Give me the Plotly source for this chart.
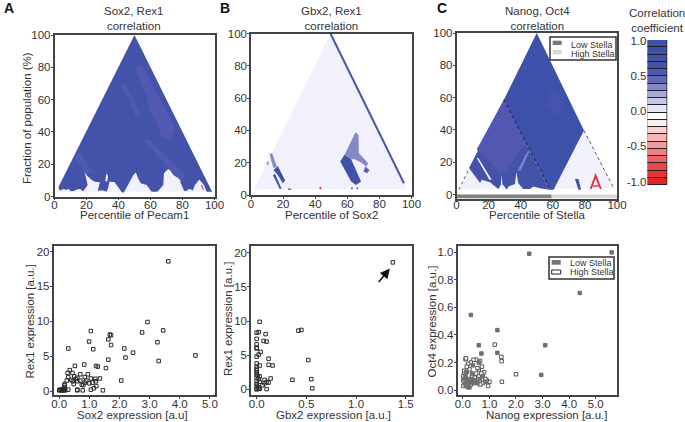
import plotly.graph_objects as go

W, H = 685, 422
FONT = "Liberation Sans"
TXT = "#333333"
BLUE = "#4453aa"
DEEP = "#3d50aa"
LITE = "#5259b2"
PALE = "#f0f1fa"
RED = "#e8303a"

# ---------- Panel A heat map regions (percentile, fraction of population) ----------
a_triangle = [(50, 100), (98.5, 3), (1.5, 3)]
a_blue = [(50, 100), (98.5, 3), (95.1, 3), (93.4, 7.1), (90.5, 10.6), (88.9, 8.2), (87.8, 7.1), (86.4, 3.6),
          (85, 4.6), (83.6, 4.4), (82.2, 3.2), (81, 3.6), (78.9, 8.2), (78.4, 11.3), (76.2, 12), (74.3, 13.3),
          (72.5, 16), (71.1, 17), (69.8, 15.6), (68.4, 14.4), (68, 7.1), (66, 5), (64.3, 3), (60.7, 3), (59, 5.5),
          (57.6, 7.1), (53.9, 8.2), (52.2, 11.3), (50.9, 14.8), (49.3, 13.3), (43.4, 2.4), (42.2, 2.4), (37.5, 9),
          (34.3, 9.2), (33.6, 5.5), (32.6, 3), (30, 3.8), (27, 3.6), (28.4, 8.8), (25.3, 9.2), (23.5, 10), (21.8, 11.3),
          (20.2, 13), (18.9, 15.4), (20.7, 7.1), (18, 3.2), (16, 4.6), (13.9, 4.4), (12, 3.4), (10.1, 3.2), (8.8, 4.8),
          (7.6, 4), (5.5, 4.6), (3.4, 3.6), (2.4, 5.7)]
a_spot = [(31.8, 9.4), (32.4, 14.4), (33.4, 12.7), (33, 9.4)]
a_light1 = [(50.3, 79.4), (54.5, 81.4), (65.9, 60.8), (75.3, 42.2), (72.2, 34.9), (67, 37), (63.8, 46.3),
            (59.7, 52.5), (57.6, 61.8), (54.5, 68)]
a_light2 = [(40.9, 69), (44, 70), (50.3, 58.7), (54.5, 48.4), (50.3, 50.5), (46.1, 61.8)]
a_light3 = [(12.8, 24.6), (15.9, 27.7), (24.3, 14.3), (19.1, 15.3)]
a_light4 = [(55.5, 35), (59.7, 35), (82.6, 12.3), (78.4, 10.2)]
a_red = [(91.6, 7.1), (92.3, 7.1), (93.4, 4.1), (92.8, 4.1)]

# ---------- Panel B regions ----------
b_triangle = [(49.5, 100), (97.5, 3.5), (2, 3.5)]
b_stripe = [(49.5, 100), (95.3, 7.3)]
b_light1 = [(65.1, 38.9), (67, 37.3), (67.2, 25.9), (70.7, 21.8), (73, 19.7), (71.8, 17.6), (68.6, 20.1),
            (64.5, 22.2), (62.4, 22.2), (58.3, 24.9)]
b_dark1 = [(55.6, 20.7), (58.3, 24.9), (62.4, 22.2), (64.5, 17.6), (68.6, 8.3), (65.5, 6.2), (62.4, 8.3)]
b_light2 = [(71.2, 17.6), (73.8, 15.5), (72.4, 13.5), (70, 14.5)]
b_light3 = [(11.5, 25.5), (13.2, 25.9), (16.1, 17.6), (14, 16.6)]
b_light4 = [(9.9, 20.7), (10.9, 20.7), (10.9, 18.7), (9.9, 18.7)]
b_dark2 = [(14, 15.5), (16.7, 18), (21.3, 9), (19.8, 7.3), (16.7, 12.4)]
b_dark3 = [(13.6, 12.4), (15, 13), (19, 4), (18, 3.5)]
b_dot1 = [(23, 4), (25, 4), (25, 3.2), (23, 3.2)]
b_dot2 = [(62.4, 4.6), (63.4, 4.6), (63.4, 3.6), (62.4, 3.6)]
b_dot3 = [(65.8, 4.6), (66.8, 4.6), (66.8, 3.6), (65.8, 3.6)]
b_red = [(42.7, 4.9), (43.8, 4.9), (43.8, 3.5), (42.7, 3.5)]

# ---------- Panel C regions ----------
c_triangle = [(50, 100), (98, 4), (1.5, 3)]
c_right = [(50, 100), (79.4, 39.6), (60.5, 3), (57.8, 3), (29.6, 58.8)]
c_left = [(29.6, 58.8), (57.8, 3), (52, 4), (47.9, 5.1), (45.8, 3.5), (41.6, 3.5), (38.5, 7), (37.2, 14), (36.5, 6.5),
          (32.3, 5), (31.3, 3), (29.2, 6), (28.6, 6), (28.1, 12.3), (27.6, 6), (26.1, 3.5), (23.5, 5.5), (20.9, 7.6),
          (15.7, 9.2), (14.7, 7.2), (7.8, 16.5)]
c_diamond = [(12.6, 27.9), (29.6, 58.8), (43.7, 32), (28.2, 12.3)]
c_patch = [(55.1, 54.7), (59.3, 66), (68.6, 58.8), (66.5, 54.7), (62.4, 48.5)]
c_gap = [(12.6, 22.7), (13.6, 22.7), (21.9, 9.2), (20.5, 9.2)]
c_stripe = [(43.7, 25.8), (46, 28), (40, 15), (38, 15)]
c_blob = [(73.8, 9.6), (76, 9.6), (77.6, 3), (76, 3)]
c_red = [(86.7, 13.5), (90.5, 3.5), (89.3, 3.5), (86.7, 10), (84.2, 3.5), (83, 3.5)]
c_red2 = [(85, 5.8), (88.5, 5.8), (88.5, 4.8), (85, 4.8)]
c_dash_mid = [(29.6, 58.8), (58.5, 3)]
c_dash_left = [(1.5, 3), (8, 16.5)]
c_dash_right = [(79.4, 39.6), (98, 4)]
c_bar_low = [(0, 0), (59.3, 0), (59.3, -2.4), (0, -2.4)]
c_bar_high = [(59.3, 0), (100, 0), (100, -2.4), (59.3, -2.4)]

# ---------- Colour key ----------
key_bases = [0.907, 0.804, 0.701, 0.598, 0.495, 0.392, 0.289, 0.186, 0.083, -0.02,
             -0.123, -0.226, -0.329, -0.432, -0.535, -0.638, -0.741, -0.844, -0.947, -1.05]
key_colors = ["#3a52a8", "#3d50a8", "#3f51a8", "#4554ab", "#5059b0", "#6168b5", "#8589c5", "#a7a9d6", "#c5c7e4",
              "#e6e7f4", "#fdfdfd", "#fdeeee", "#fbd3d3", "#f8b6b6", "#f59a9a", "#f27f7f", "#ee6464", "#eb4848",
              "#e93232", "#e72227"]
key_ticks = [1.0, 0.5, 0.0, -0.5, -1.0]
key_labels = ["1.0", "0.5", "0.0", "-0.5", "-1.0"]

# ---------- Scatter data ----------
sox2 = [3.62, 2.93, 2.75, 3.45, 3.26, 4.52, 3.3, 2.45, 2.2, 2.16, 2.06, 1.05, 0.99, 1.13, 0.3, 1.68, 1.72, 1.63, 1.72,
        1.63, 1.55, 1.22, 1.28, 0.83, 0.52, 0.35, 0.28, 0.44, 0.7, 0.95, 0.85, 0.3, 0.5, 0.25, 0.4, 0.45, 0.55, 0.6,
        0.7, 0.48, 0.6, 1.05, 1.2, 1.35, 1.0, 1.1, 1.22, 0.9, 0.85, 0.75, 0.8, 0.6, 0.6, 0.78, 1.05, 1.15, 1.23, 1.45,
        0.3, 0.0, 0.05, 0.1, 0.15, 0.2, 0.02, 0.08, 0.12, 0.17, 0.18, 0.17, 0.18, 0.15]
rex1_a = [18.6, 9.9, 8.4, 8.7, 7.0, 5.1, 4.3, 5.5, 4.8, 6.1, 1.5, 8.6, 7.1, 6.0, 6.1, 8.1, 8.0, 7.4, 6.6,
          4.5, 3.3, 3.6, 3.5, 3.8, 3.6, 3.0, 2.6, 2.6, 2.4, 2.4, 2.0, 2.0, 2.1, 1.5, 1.6, 1.4, 1.7, 1.4,
          1.5, 1.0, 1.9, 1.8, 1.75, 1.8, 1.1, 1.2, 1.4, 1.5, 1.2, 0.9, 0.85, 0.2, 0.1, 0.1, 0.2, 0.4, 0.7, 0.1,
          0.2, 0.1, 0.1, 0.1, 0.1, 0.1, 0.2, 0.2, 0.2, 0.2, 0.5, 0.8, 1.0, 0.3]
gbx2 = [1.37, 0.03, 0.42, 0.45, 0.0, 0.02, 0.09, 0.0, 0.07, 0.1, 0.0, 0.0, 0.0, 0.04, 0.02, 0.0, 0.12, 0.52, 0.0, 0.12,
        0.03, 0.16, 0.0, 0.0, 0.0, 0.0, 0.0, 0.01, 0.03, 0.0, 0.02, 0.14, 0.36, 0.55, 0.08, 0.0, 0.03, 0.1, 0.12, 0.08,
        0.06, 0.0, 0.0, 0.02, 0.56, 0.1, 0.0, 0.02, 0.03, 0.0]
rex1_b = [18.6, 9.9, 8.6, 8.7, 8.3, 8.4, 8.1, 7.4, 7.1, 7.0, 6.6, 6.1, 6.0, 5.5, 5.1, 4.8, 4.5, 4.3, 3.8, 3.6,
          3.5, 3.5, 3.3, 3.0, 2.8, 2.5, 2.2, 2.0, 1.9, 1.7, 1.5, 1.6, 1.4, 1.5, 1.4, 1.2, 1.1, 1.1, 1.0, 0.9,
          0.6, 0.8, 0.5, 0.3, 0.15, 0.05, 0.1, 0.1, 0.1, 0.0]
nanog_low = [5.6, 2.5, 4.4, 0.3, 1.3, 3.1, 0.6, 0.7, 1.3, 2.95, 0.1, 0.12, 0.15, 0.2, 0.22, 0.25, 0.3, 0.35, 0.38,
             0.35, 0.4, 0.45, 0.5, 0.55, 0.65, 0.75, 0.85, 0.15, 0.6, 0.1, 0.05, 0.2]
oct4_low = [1.0, 0.99, 0.705, 0.545, 0.435, 0.325, 0.325, 0.265, 0.27, 0.11, 0.1, 0.13, 0.05, 0.08, 0.03, 0.06, 0.06,
            0.12, 0.18, 0.08, 0.05, 0.07, 0.06, 0.05, 0.08, 0.1, 0.06, 0.13, 0.2, 0.04, 0.08, 0.02]
nanog_high = [1.2, 1.45, 1.46, 2.0, 1.47, 1.0, 0.95, 0.9, 0.85, 0.8, 0.72, 0.65, 0.5, 0.4, 0.3, 0.1, 0.12, 0.2, 0.25,
              0.6, 0.55, 0.6, 0.7, 0.5, 0.35, 0.05, 0.02, 0.05, 0.02, 0.15, 0.1, 0.25, 0.45, 0.75, 0.3, 0.15, 0.02,
              0.65, 0.05]
oct4_high = [0.33, 0.24, 0.21, 0.115, 0.06, 0.06, 0.03, 0.07, 0.08, 0.13, 0.17, 0.21, 0.22, 0.22, 0.2, 0.225, 0.23,
             0.19, 0.15, 0.15, 0.16, 0.1, 0.12, 0.12, 0.1, 0.12, 0.1, 0.04, 0.03, 0.03, 0.06, 0.02, 0.09, 0.05, 0.04,
             0.17, 0.07, 0.04, 0.14]

fig = go.Figure()


def px(v):
    return v / W


def py(v):
    return 1 - v / H


def poly(points, color, n):
    fig.add_trace(go.Scatter(x=[p[0] for p in points], y=[p[1] for p in points], mode="lines", fill="toself",
                             fillcolor=color, line=dict(width=0), hoverinfo="skip", showlegend=False,
                             xaxis=f"x{n}", yaxis=f"y{n}"))


def seg(points, color, width, dash, n):
    fig.add_trace(go.Scatter(x=[p[0] for p in points], y=[p[1] for p in points], mode="lines",
                             line=dict(color=color, width=width, dash=dash), hoverinfo="skip", showlegend=False,
                             xaxis=f"x{n}", yaxis=f"y{n}"))


def points(x, y, n, fill="rgba(0,0,0,0)", line="#2a2a2a"):
    fig.add_trace(go.Scatter(x=x, y=y, mode="markers", showlegend=False, xaxis=f"x{n}", yaxis=f"y{n}",
                             marker=dict(symbol="square", size=3.5, color=fill, line=dict(color=line, width=1))))


# A heat map
poly(a_triangle, PALE, 1)
poly(a_blue, BLUE, 1)
for r in (a_light1, a_light2, a_light3, a_light4):
    poly(r, LITE, 1)
poly(a_spot, "#ffffff", 1)
poly(a_red, RED, 1)

# B heat map
poly(b_triangle, PALE, 2)
seg(b_stripe, "#4a55a8", 2, "solid", 2)
for r in (b_light1, b_light3, b_light4):
    poly(r, "#8589c5", 2)
poly(b_light2, "#5a61b4", 2)
for r in (b_dark1, b_dark2, b_dark3, b_dot1, b_dot2, b_dot3):
    poly(r, "#3f51a8", 2)
poly(b_red, RED, 2)

# C heat map
poly(c_triangle, PALE, 3)
poly(c_left, "#4453aa", 3)
poly(c_diamond, "#5258b2", 3)
poly(c_right, DEEP, 3)
poly(c_patch, "#4653ad", 3)
poly(c_stripe, "#7f85c6", 3)
poly(c_gap, "#f6f6fc", 3)
poly(c_blob, DEEP, 3)
poly(c_red, RED, 3)
poly(c_red2, RED, 3)
seg(c_dash_mid, "#1a1a3a", 1, "dot", 3)
seg(c_dash_left, "#333333", 0.8, "dot", 3)
seg(c_dash_right, "#333333", 0.8, "dot", 3)
poly(c_bar_low, "#808080", 3)
poly(c_bar_high, "#d9d9d9", 3)

# scatters
points(sox2, rex1_a, 4)
points(gbx2, rex1_b, 5)
points(nanog_high, oct4_high, 6, fill="#ffffff", line="#555555")
points(nanog_low, oct4_low, 6, fill="#707070", line="#707070")

# colour key
fig.add_trace(go.Bar(x=[1] * len(key_bases), y=[0.103] * len(key_bases), base=key_bases, width=1,
                     marker=dict(color=key_colors, line=dict(color="#222222", width=1)),
                     hoverinfo="skip", showlegend=False, xaxis="x7", yaxis="y7"))

frames = {
    1: (54.5, 214.5, 35, 196.5, [0, 100], [0, 100]),
    2: (251, 411.5, 33.5, 195, [0, 100], [0, 100]),
    3: (456.5, 617, 33, 198.5, [0, 100], [-2.4, 100]),
    4: (53.5, 215, 246, 395, [-0.19, 5.17], [-0.57, 20.8]),
    5: (251, 411.5, 246, 395, [-0.057, 1.558], [-0.82, 21]),
    6: (457.5, 617, 246, 395, [-0.2, 5.8], [-0.036, 1.046]),
}
x_titles = {1: ("Percentile of Pecam1", 134, 215), 2: ("Percentile of Sox2", 331, 215),
            3: ("Percentile of Stella", 537, 215), 4: ("Sox2 expression [a.u]", 132, 415),
            5: ("Gbx2 expression [a.u.]", 333, 415), 6: ("Nanog expression [a.u.]", 546, 415)}
y_titles = {1: ("Fraction of population (%)", 27, 118), 4: ("Rex1 expression [a.u.]", 29, 321.5),
            5: ("Rex1 expression [a.u.]", 228, 319), 6: ("Oct4 expression [a.u.]", 431, 321.5)}
x_ticks = {1: 20, 2: 20, 3: 20, 4: 1, 5: 0.5, 6: 1}
y_ticks = {1: 20, 2: 20, 3: 20, 4: 5, 5: 5, 6: 0.2}
layout = {}
tick_font = dict(family=FONT, size=11.5, color=TXT)
for n, (l, r, t, b, xr, yr) in frames.items():
    is_top = n <= 3
    layout[f"xaxis{n}"] = dict(
        domain=[px(l), px(r)], range=xr, anchor=f"y{n}", dtick=x_ticks[n], tick0=0, showgrid=False, zeroline=False,
        automargin=False, showline=True, mirror=True, linecolor="#444444", linewidth=1.5, ticks="outside", ticklen=2,
        tickwidth=1, tickcolor="#444444", tickfont=tick_font, tickformat="d" if is_top else ".1f",
        ticklabelstandoff=-5 if n != 3 else -7)
    layout[f"yaxis{n}"] = dict(
        domain=[py(b), py(t)], range=yr, anchor=f"x{n}", dtick=y_ticks[n], tick0=0, showgrid=False, zeroline=False,
        automargin=False, showline=True, mirror=True, linecolor="#444444", linewidth=1.5, ticks="outside", ticklen=2,
        tickwidth=1, tickcolor="#444444", tickfont=tick_font, tickformat="d" if n != 6 else ".1f",
        ticklabelstandoff=-2)
layout["xaxis7"] = dict(domain=[px(647.5), px(667.5)], range=[0.5, 1.5], anchor="y7", visible=False, automargin=False)
layout["yaxis7"] = dict(domain=[py(185), py(40)], range=[-1.05, 1.01], anchor="x7", tickvals=key_ticks,
                        ticktext=key_labels, showgrid=False, zeroline=False, showline=False, ticks="",
                        tickfont=tick_font, automargin=False)

annots = []


def text(x, y, s, size=11.5, anchor="center", bold=False, color=TXT, angle=0):
    annots.append(dict(x=px(x), y=py(y), xref="paper", yref="paper", text=f"<b>{s}</b>" if bold else s,
                       showarrow=False, xanchor=anchor, yanchor="middle", align="center", textangle=angle,
                       font=dict(family=FONT, size=size, color=color)))


for s, x, y in x_titles.values():
    text(x, y, s)
for s, x, y in y_titles.values():
    text(x, y, s, angle=-90)
text(2, 8, "A", 14, "left", True, "#111111")
text(218, 8, "B", 14, "left", True, "#111111")
text(435, 8, "C", 14, "left", True, "#111111")
text(133.5, 19, "Sox2, Rex1<br>correlation")
text(331, 18.5, "Gbx2, Rex1<br>correlation")
text(537, 19, "Nanog, Oct4<br>correlation")
text(656.5, 20.5, "Correlation<br>coefficient")

shapes = []


def rect(x0, y0, x1, y1, fill, line=None, w=0):
    shapes.append(dict(type="rect", xref="paper", yref="paper", x0=px(x0), x1=px(x1), y0=py(y0), y1=py(y1),
                       fillcolor=fill, line=dict(color=line or fill, width=w)))


rect(550, 37, 616, 60, "#ffffff", "#333333", 1.5)
rect(552.7, 40.7, 561.7, 45, "#777777")
rect(552.7, 50, 561.7, 54.3, "#d9d9d9")
text(569, 44.5, "Low Stella", 9, "left")
text(569, 54, "High Stella", 9, "left")
rect(549, 257, 614, 279, "#ffffff", "#333333", 1.5)
rect(551.7, 260, 560.7, 264.7, "#777777")
rect(551.7, 270, 560.7, 274, "#ffffff", "#222222", 1)
text(568, 263, "Low Stella", 9, "left")
text(568, 272, "High Stella", 9, "left")

annots.append(dict(x=1.34, y=17.7, ax=1.216, ay=15.5, xref="x5", yref="y5", axref="x5", ayref="y5", text="",
                   showarrow=True, arrowhead=2, arrowsize=1.3, arrowwidth=1.5, arrowcolor="#111111"))

fig.update_layout(width=W, height=H, margin=dict(l=0, r=0, t=0, b=0), paper_bgcolor="#ffffff",
                  plot_bgcolor="#ffffff", font=dict(family=FONT, color=TXT), showlegend=False,
                  annotations=annots, shapes=shapes, bargap=0, **layout)
fig.write_html("out.html", config={"displayModeBar": False},
               post_script="document.body.style.margin='0';")
